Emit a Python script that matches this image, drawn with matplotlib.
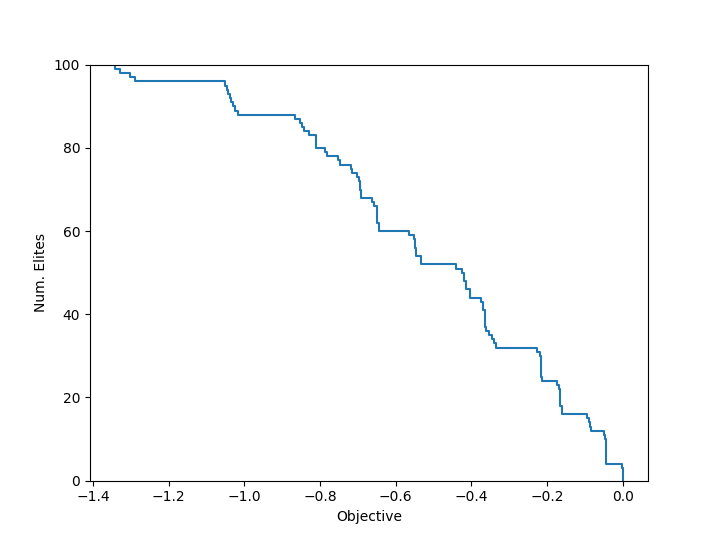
import matplotlib

matplotlib.use("Agg")

import matplotlib.pyplot as plt  # noqa: E402

# objective value at which the elite count drops, and the count after the drop
objective = [
    -1.341, -1.341, -1.328, -1.302, -1.290,
    -1.051, -1.047, -1.043, -1.038, -1.034, -1.029, -1.024, -1.018,
    -0.8666, -0.8524, -0.8489, -0.8429, -0.8297, -0.8094, -0.7875, -0.7822,
    -0.7522, -0.7461, -0.7171, -0.7145, -0.7021, -0.6960, -0.6930, -0.6907,
    -0.6626, -0.6573, -0.6494, -0.6441,
    -0.5650, -0.5518, -0.5484, -0.5457, -0.5334,
    -0.4411, -0.4253, -0.4192, -0.4147, -0.4034,
    -0.3752, -0.3683, -0.3646, -0.3612, -0.3541, -0.3454, -0.3409, -0.3348,
    -0.2275, -0.2188, -0.2162, -0.2145, -0.2136,
    -0.1722, -0.1687, -0.1661, -0.1643, -0.1608,
    -0.0931, -0.0888, -0.0862, -0.0825,
    -0.0501, -0.0475, -0.0448, -0.0430,
    -0.0026, 0.0,
]
num_elites = [
    100, 99, 98, 97, 96,
    95, 94, 93, 92, 91, 90, 89, 88,
    87, 86, 85, 84, 83, 80, 79, 78,
    77, 76, 75, 74, 73, 72, 70, 68,
    67, 66, 62, 60,
    59, 58, 56, 54, 52,
    51, 50, 48, 46, 44,
    43, 41, 37, 36, 35, 34, 33, 32,
    31, 30, 27, 25, 24,
    23, 22, 20, 18, 16,
    15, 14, 13, 12,
    11, 10, 7, 4,
    3, 0,
]

fig, ax = plt.subplots(figsize=(7.2, 5.4), dpi=100)
ax.step(objective, num_elites, where="post")
ax.set_ylim(0, 100)
ax.set_xlabel("Objective")
ax.set_ylabel("Num. Elites")
fig.savefig("out.png", dpi=100)
plt.close(fig)
